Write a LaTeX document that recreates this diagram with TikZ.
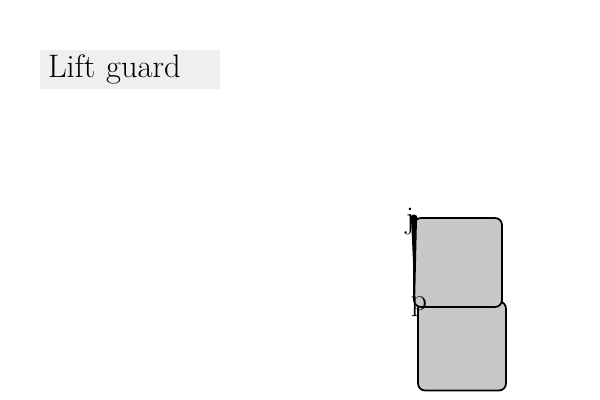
\documentclass[tikz,border=0pt]{standalone}
\usepackage{xcolor}
\usetikzlibrary{positioning, calc}
\definecolor{BoxGray}{RGB}{200,200,200}
\definecolor{TagGray}{RGB}{239,239,239}

\begin{document}
\begin{tikzpicture}[
          block/.style={rectangle, rounded corners=4pt, draw=black, line width=1pt,
                        fill=BoxGray, minimum width=1.76cm, minimum height=1.78cm,
                        inner sep=0pt},
          lbl/.style={font=\fontsize{18}{22}\selectfont, inner sep=0pt}
        ]
        \useasboundingbox (0,0) rectangle (12,8);

        % Title tag
        \node[fill=TagGray, minimum width=3.6cm, minimum height=0.78cm,
              text width=3.28cm, align=left, inner xsep=0.16cm, inner ysep=0.02cm,
              font=\fontsize{18.5}{22}\selectfont]
              (title) at (2.6, 6.61) {Lift guard};

        % Blocks
        \node[block] (lower) at (9.24, 1.08) {};
        \node[block] (upper) at (9.16, 2.75) {};

        % Labels
        \node[lbl] (jl) at (8.2, 3.56) {j};
        \node[lbl] (pl) at (8.38, 1.86) {p};

        % Wedge from p up to j
        \coordinate (jtop) at (8.28, 3.64);
        \coordinate (pbot) at (8.3, 1.9);
        \fill ($(jtop)+(-0.06,0)$) -- ($(jtop)+(0.06,0)$) -- (pbot) -- cycle;
        \fill (jtop) circle (0.07);
      \end{tikzpicture}
\end{document}
